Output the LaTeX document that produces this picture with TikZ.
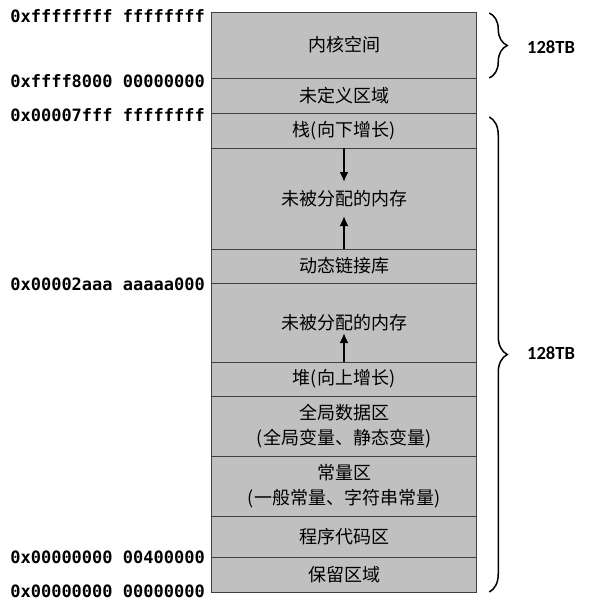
\documentclass[tikz,border=0pt]{standalone}
\usepackage{fontspec}
\newfontfamily\cjk{Noto Sans CJK SC}
\newfontfamily\hexfont{DejaVu Sans Mono}
\newfontfamily\sizefont{Carlito}
\usetikzlibrary{positioning,arrows.meta,decorations.pathreplacing}
\definecolor{cellgray}{HTML}{C0C0C0}
\tikzset{
  cell/.style={draw=black!75, fill=cellgray, line width=1pt, minimum width=265.5pt,
    inner sep=0pt, outer sep=0pt, align=center,
    font=\cjk\fontsize{18}{25}\selectfont},
  addr/.style={anchor=base east, inner sep=0pt, font=\hexfont\bfseries\fontsize{17}{20}\selectfont},
  sizelabel/.style={anchor=west, inner sep=0pt, font=\sizefont\bfseries\fontsize{18.5}{22}\selectfont},
  growarrow/.style={->, line width=2pt},
  bracket/.style={decorate, decoration={brace, amplitude=18pt}, line width=1.5pt}
}
\begin{document}
\begin{tikzpicture}[x=1pt, y=-1pt, >={Latex[length=10pt,width=9pt]}]
		\useasboundingbox (0,0) rectangle (589,613);
		\node[cell, minimum height=66pt] (kernel) at (344,45) {内核空间};
		\node[cell, minimum height=35pt, below=0pt of kernel] (undef) {未定义区域};
		\node[cell, minimum height=35pt, below=0pt of undef] (stack) {栈(向下增长)};
		\node[cell, minimum height=101pt, below=0pt of stack] (freeup) {未被分配的内存};
		\node[cell, minimum height=34pt, below=0pt of freeup] (dynlib) {动态链接库};
		\node[cell, minimum height=79pt, below=0pt of dynlib] (freelow) {未被分配的内存};
		\node[cell, minimum height=34pt, below=0pt of freelow] (heap) {堆(向上增长)};
		\node[cell, minimum height=60pt, below=0pt of heap] (data) {全局数据区\\(全局变量、静态变量)};
		\node[cell, minimum height=60pt, below=0pt of data] (const) {常量区\\(一般常量、字符串常量)};
		\node[cell, minimum height=41pt, below=0pt of const] (code) {程序代码区};
		\node[cell, minimum height=35pt, below=0pt of code] (reserved) {保留区域};
		\coordinate (stacktip) at (344,182);
		\coordinate (libtip) at (344,216);
		\coordinate (heaptip) at (344,333);
		\draw[growarrow] (stack.south) -- (stacktip);
		\draw[growarrow] (dynlib.north) -- (libtip);
		\draw[growarrow] (heap.north) -- (heaptip);
		\node[addr] (kerneltop) at (205,23) {0xffffffff ffffffff};
		\node[addr] (kernelbase) at (205,87) {0xffff8000 00000000};
		\node[addr] (usertop) at (205,121) {0x00007fff ffffffff};
		\node[addr] (libbase) at (205,290) {0x00002aaa aaaaa000};
		\node[addr] (codebase) at (205,563) {0x00000000 00400000};
		\node[addr] (zero) at (205,597) {0x00000000 00000000};
		\draw[bracket] ([xshift=12.5pt,yshift=-1pt]kernel.north east) -- ([xshift=12.5pt]kernel.south east);
		\draw[bracket] ([xshift=12.5pt,yshift=-4pt]stack.north east) -- ([xshift=12.5pt]reserved.south east);
		\node[sizelabel] (kernelsize) at (527,47) {128TB};
		\node[sizelabel] (usersize) at (527,353) {128TB};
\end{tikzpicture}
\end{document}
